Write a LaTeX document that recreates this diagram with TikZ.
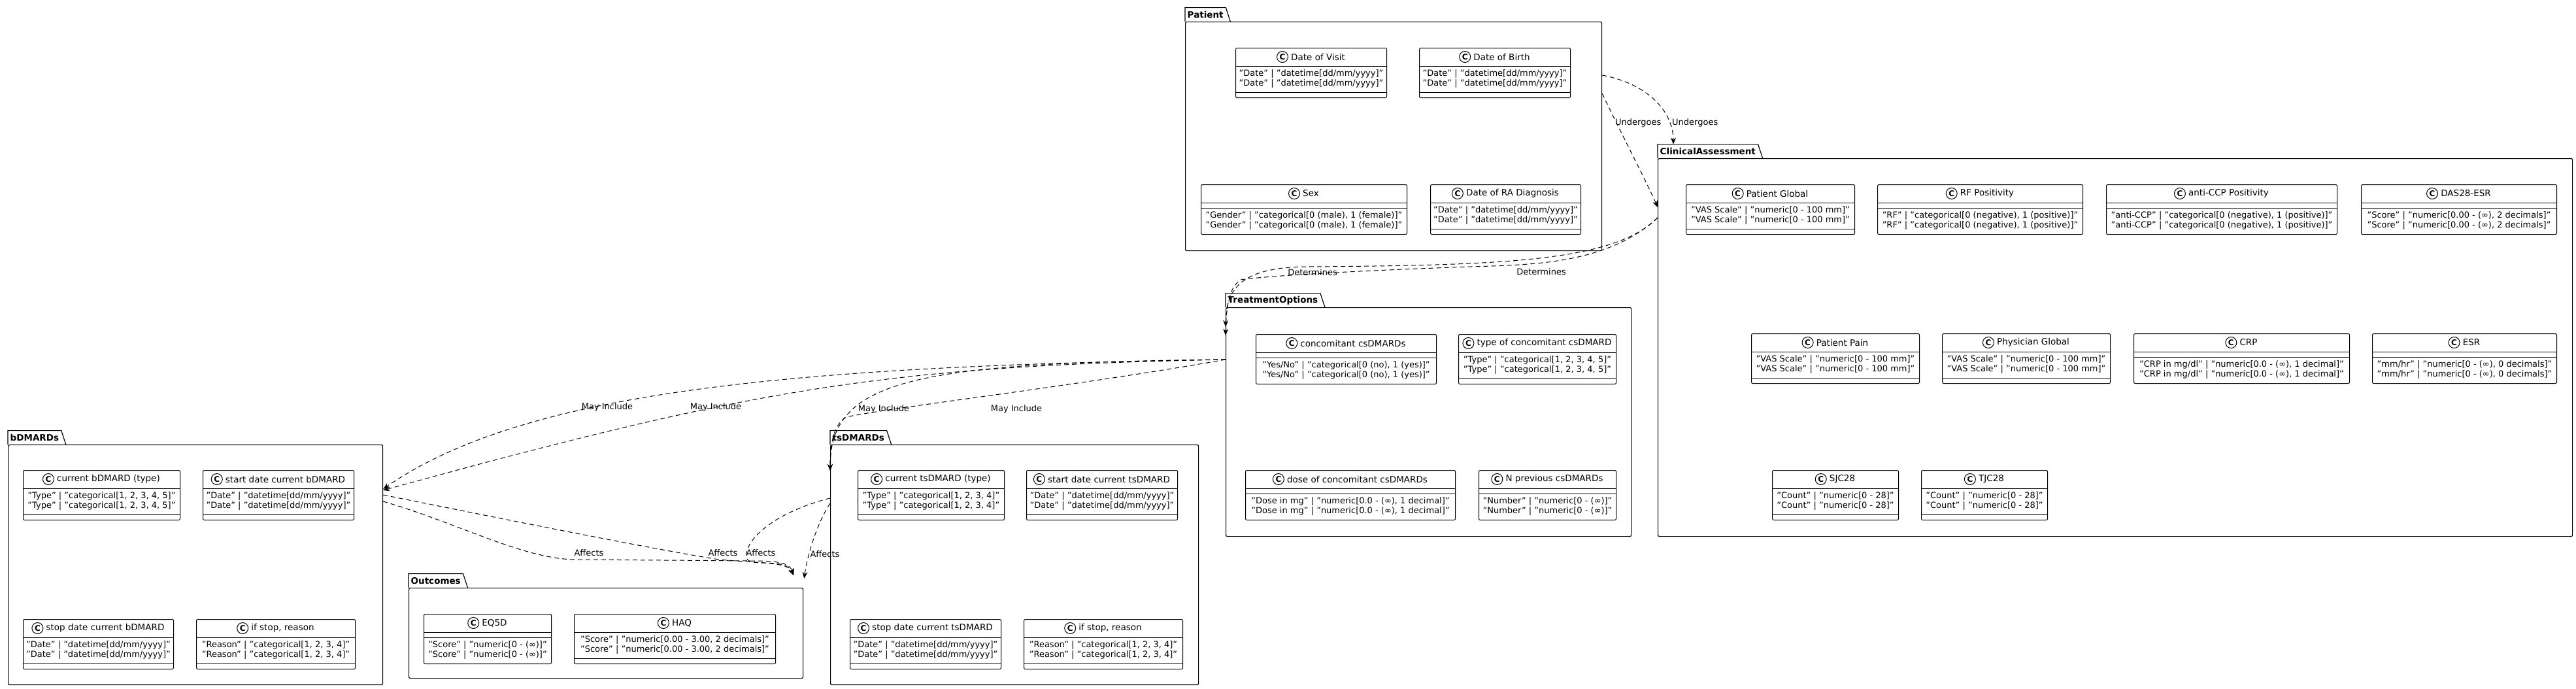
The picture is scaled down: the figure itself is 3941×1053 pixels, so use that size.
\documentclass[tikz,border=0pt]{standalone}
\usepackage{fontspec}
\setmainfont{DejaVu Sans}
\usetikzlibrary{positioning,arrows.meta}

\tikzset{
	pkgbody/.style={draw, line width=1.2pt, rounded corners=2pt, anchor=north west, inner sep=0pt},
	pkgtab/.style={anchor=south west, inner xsep=3.5pt, inner ysep=0pt, minimum height=21pt, font=\fontsize{13.5}{15}\selectfont\bfseries},
	classbox/.style={draw, line width=1pt, rounded corners=2pt, fill=white, anchor=north west, minimum height=76pt, inner sep=0pt},
	classtitle/.style={font=\fontsize{13.5}{15}\selectfont, inner sep=0pt},
	classtext/.style={font=\fontsize{13}{15}\selectfont, align=center, inner sep=0pt},
	spot/.style={draw, circle, line width=1pt, fill=white, minimum size=17pt, inner sep=0pt, font=\fontsize{12}{12}\selectfont\bfseries},
	dep/.style={line width=1pt, dash pattern=on 7pt off 5pt, -{Stealth[length=10pt,width=8pt]}},
	edgelabel/.style={font=\fontsize{13}{15}\selectfont, inner sep=0pt}
}

\newcommand{\package}[6]{%
	\node[pkgbody, minimum width=#4pt, minimum height=#5pt] (#1) at (#2,#3) {};
	\node[pkgtab] (#1-tab) at (#1.north west) {#6};
	\draw[line width=1.2pt] (#1-tab.south west) -- (#1-tab.north west) -- (#1-tab.north east) -- ([xshift=7pt]#1-tab.south east);
}
\newcommand{\fieldclass}[6]{%
	\node[classbox, minimum width=#4pt] (#1) at (#2,#3) {};
	\draw[line width=1pt] ([yshift=-28pt]#1.north west) -- ([yshift=-28pt]#1.north east)
		([yshift=-68pt]#1.north west) -- ([yshift=-68pt]#1.north east);
	\node[classtitle, xshift=10.5pt] (#1-t) at ([yshift=-14pt]#1.north) {#5};
	\node[spot, left=4pt of #1-t] (#1-c) {C};
	\node[classtext] (#1-f) at ([yshift=-48pt]#1.north) {#6\\#6};
}
\newcommand{\methodclass}[6]{%
	\node[classbox, minimum width=#4pt] (#1) at (#2,#3) {};
	\draw[line width=1pt] ([yshift=-28pt]#1.north west) -- ([yshift=-28pt]#1.north east)
		([yshift=-36pt]#1.north west) -- ([yshift=-36pt]#1.north east);
	\node[classtitle, xshift=10.5pt] (#1-t) at ([yshift=-14pt]#1.north) {#5};
	\node[spot, left=4pt of #1-t] (#1-c) {C};
	\node[classtext] (#1-f) at ([yshift=-56pt]#1.north) {#6\\#6};
}

\begin{document}
\begin{tikzpicture}[x=1pt, y=-1pt]
	\useasboundingbox (0,0) rectangle (3941,1053);

	\package{patient}{1813}{33}{637}{350}{Patient}
	\package{clinical}{2536}{242}{1399}{578}{ClinicalAssessment}
	\package{treatment}{1875}{470}{620}{350}{TreatmentOptions}
	\package{bdmards}{12}{680}{573}{367}{bDMARDs}
	\package{tsdmards}{1270}{680}{563}{367}{tsDMARDs}
	\package{outcomes}{625}{899}{603}{138}{Outcomes}

	\fieldclass{visit}{1890}{73}{231}{Date of Visit}{"Date" | "datetime[dd/mm/yyyy]"}
	\fieldclass{birth}{2171}{73}{231}{Date of Birth}{"Date" | "datetime[dd/mm/yyyy]"}
	\methodclass{sex}{1837}{282}{315}{Sex}{"Gender" | "categorical[0 (male), 1 (female)]"}
	\fieldclass{diagnosis}{2188}{282}{230}{Date of RA Diagnosis}{"Date" | "datetime[dd/mm/yyyy]"}

	\fieldclass{ptglobal}{2579}{282}{258}{Patient Global}{"VAS Scale" | "numeric[0 - 100 mm]"}
	\methodclass{rf}{2872}{282}{314}{RF Positivity}{"RF" | "categorical[0 (negative), 1 (positive)]"}
	\methodclass{ccp}{3222}{282}{353}{anti-CCP Positivity}{"anti-CCP" | "categorical[0 (negative), 1 (positive)]"}
	\methodclass{das}{3612}{282}{299}{DAS28-ESR}{"Score" | "numeric[0.00 - (∞), 2 decimals]"}
	\fieldclass{pain}{2679}{510}{257}{Patient Pain}{"VAS Scale" | "numeric[0 - 100 mm]"}
	\fieldclass{phglobal}{2971}{510}{257}{Physician Global}{"VAS Scale" | "numeric[0 - 100 mm]"}
	\methodclass{crp}{3264}{510}{330}{CRP}{"CRP in mg/dl" | "numeric[0.0 - (∞), 1 decimal]"}
	\methodclass{esr}{3629}{510}{282}{ESR}{"mm/hr" | "numeric[0 - (∞), 0 decimals]"}
	\fieldclass{sjc}{2711}{719}{193}{SJC28}{"Count" | "numeric[0 - 28]"}
	\fieldclass{tjc}{2939}{719}{193}{TJC28}{"Count" | "numeric[0 - 28]"}

	\methodclass{conc}{1921}{511}{276}{concomitant csDMARDs}{"Yes/No" | "categorical[0 (no), 1 (yes)]"}
	\fieldclass{conctype}{2231}{511}{241}{type of concomitant csDMARD}{"Type" | "categorical[1, 2, 3, 4, 5]"}
	\methodclass{concdose}{1905}{719}{321}{dose of concomitant csDMARDs}{"Dose in mg" | "numeric[0.0 - (∞), 1 decimal]"}
	\methodclass{nprev}{2262}{719}{210}{N previous csDMARDs}{"Number" | "numeric[0 - (∞)]"}

	\fieldclass{bcur}{35}{719}{240}{current bDMARD (type)}{"Type" | "categorical[1, 2, 3, 4, 5]"}
	\fieldclass{bstart}{310}{719}{231}{start date current bDMARD}{"Date" | "datetime[dd/mm/yyyy]"}
	\fieldclass{bstop}{35}{947}{230}{stop date current bDMARD}{"Date" | "datetime[dd/mm/yyyy]"}
	\fieldclass{breason}{300}{947}{243}{if stop, reason}{"Reason" | "categorical[1, 2, 3, 4]"}

	\fieldclass{tcur}{1312}{719}{224}{current tsDMARD (type)}{"Type" | "categorical[1, 2, 3, 4]"}
	\fieldclass{tstart}{1570}{719}{231}{start date current tsDMARD}{"Date" | "datetime[dd/mm/yyyy]"}
	\fieldclass{tstop}{1300}{947}{231}{stop date current tsDMARD}{"Date" | "datetime[dd/mm/yyyy]"}
	\fieldclass{treason}{1566}{947}{243}{if stop, reason}{"Reason" | "categorical[1, 2, 3, 4]"}

	\methodclass{eqfived}{648}{939}{195}{EQ5D}{"Score" | "numeric[0 - (∞)]"}
	\fieldclass{haq}{878}{939}{308}{HAQ}{"Score" | "numeric[0.00 - 3.00, 2 decimals]"}

	\draw[dep] ([yshift=-82pt]patient.north east) .. controls (2520,128) and (2560,170) .. ([xshift=24pt]clinical-tab.north west);
	\draw[dep] ([yshift=-110pt]patient.north east) .. controls (2478,200) and (2520,280) .. ([yshift=-75pt]clinical.north west);
	\node[edgelabel, anchor=west] (undergoes-a) at (2471,188) {Undergoes};
	\node[edgelabel, anchor=west] (undergoes-b) at (2558,188) {Undergoes};

	\draw[dep] ([yshift=-91pt]clinical.north west) .. controls (2470,400) and (2300,406) .. (2000,408)
		.. controls (1900,409) and (1876,440) .. ([yshift=-30pt]treatment.north west);
	\draw[dep] ([yshift=-91pt]clinical.north west) .. controls (2460,403) and (2350,405) .. (2250,408)
		.. controls (2050,415) and (1930,423) .. (1898,428)
		.. controls (1880,440) and (1876,470) .. ([yshift=-43pt]treatment.north west);
	\node[edgelabel] (determines-a) at (2008,417) {Determines};
	\node[edgelabel] (determines-b) at (2358,416) {Determines};

	\draw[dep] ([yshift=-80pt]treatment.north west) .. controls (1200,560) and (800,600) .. ([yshift=-68pt]bdmards.north east);
	\draw[dep] ([yshift=-80pt]treatment.north west) .. controls (1350,560) and (1150,595) .. ([yshift=-70pt]bdmards.north east);
	\draw[dep] ([yshift=-80pt]treatment.north west) .. controls (1400,555) and (1270,580) .. ([yshift=-40pt]tsdmards.north west);
	\draw[dep] ([yshift=-80pt]treatment.north west) .. controls (1650,590) and (1350,625) .. (1295,638)
		.. controls (1272,650) and (1270,690) .. ([yshift=-40pt]tsdmards.north west);
	\node[edgelabel] (mayinclude-a) at (929,623) {May Include};
	\node[edgelabel] (mayinclude-b) at (1095,623) {May Include};
	\node[edgelabel] (mayinclude-c) at (1352,626) {May Include};
	\node[edgelabel] (mayinclude-d) at (1555,626) {May Include};

	\draw[dep] ([yshift=-77pt]bdmards.north east) .. controls (800,800) and (1000,840) .. (1100,856)
		.. controls (1170,862) and (1205,860) .. ([xshift=-15pt,yshift=19pt]outcomes.north east);
	\draw[dep] ([yshift=-87pt]bdmards.north east) .. controls (700,800) and (800,855) .. (880,856) -- (1150,858)
		.. controls (1195,858) and (1208,862) .. ([xshift=-15pt,yshift=19pt]outcomes.north east);
	\draw[dep] ([yshift=-82pt]tsdmards.north west) .. controls (1180,785) and (1135,830) .. (1143,855)
		.. controls (1150,868) and (1200,852) .. ([xshift=-15pt,yshift=19pt]outcomes.north east);
	\draw[dep] ([yshift=-90pt]tsdmards.north west) .. controls (1250,800) and (1235,850) .. ([xshift=1pt,yshift=14pt]outcomes.north east);
	\node[edgelabel] (affects-a) at (901,846) {Affects};
	\node[edgelabel] (affects-b) at (1106,846) {Affects};
	\node[edgelabel] (affects-c) at (1164,846) {Affects};
	\node[edgelabel] (affects-d) at (1262,848) {Affects};
\end{tikzpicture}
\end{document}
